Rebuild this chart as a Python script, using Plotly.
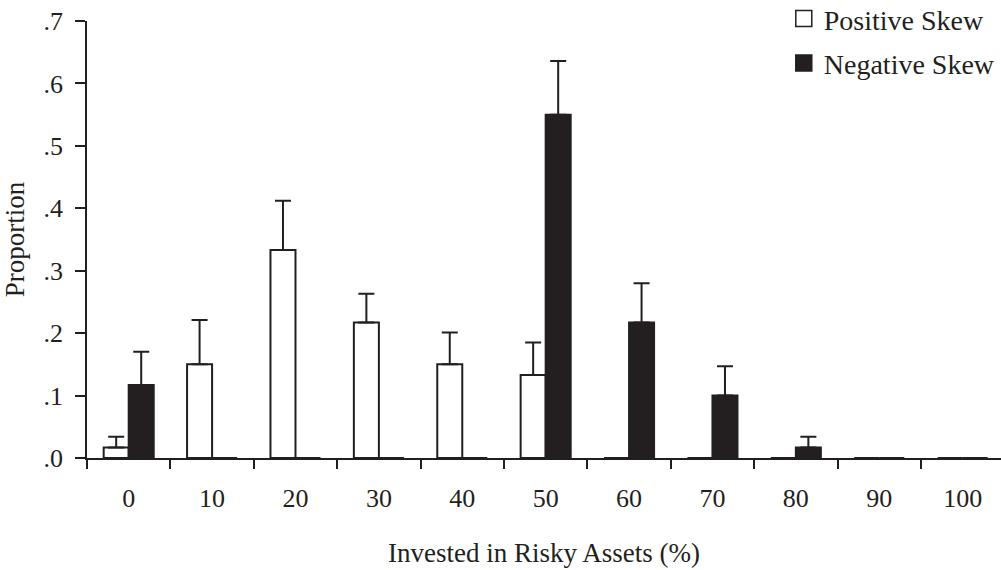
import plotly.graph_objects as go

# Share of participants by percentage invested in the risky asset
categories = ["0", "10", "20", "30", "40", "50", "60", "70", "80", "90", "100"]
positive_skew = [0.017, 0.150, 0.333, 0.217, 0.150, 0.133, 0.0, 0.0, 0.0, 0.0, 0.0]
positive_err = [0.017, 0.071, 0.079, 0.046, 0.051, 0.052, 0.0, 0.0, 0.0, 0.0, 0.0]
negative_skew = [0.117, 0.0, 0.0, 0.0, 0.0, 0.550, 0.217, 0.100, 0.017, 0.0, 0.0]
negative_err = [0.053, 0.0, 0.0, 0.0, 0.0, 0.086, 0.063, 0.047, 0.017, 0.0, 0.0]
y_ticks = [0.0, 0.1, 0.2, 0.3, 0.4, 0.5, 0.6, 0.7]
y_tick_text = [".0", ".1", ".2", ".3", ".4", ".5", ".6", ".7"]

INK = "#231f20"
FONT = "Liberation Serif"
TICK_SIZE = 26
TITLE_SIZE = 27
LEGEND_SIZE = 28
zeros = [0.0] * len(categories)


def err(values):
    return dict(type="data", symmetric=False, array=values, arrayminus=zeros,
                color=INK, thickness=2, width=8)


fig = go.Figure()
fig.add_trace(go.Bar(
    x=categories, y=positive_skew, name="Positive Skew", showlegend=False,
    marker=dict(color="white", line=dict(color=INK, width=2)),
    error_y=err(positive_err),
))
fig.add_trace(go.Bar(
    x=categories, y=negative_skew, name="Negative Skew", showlegend=False,
    marker=dict(color=INK, line=dict(color=INK, width=2)),
    error_y=err(negative_err),
))

# Legend entries with larger square swatches
fig.add_trace(go.Scatter(
    x=[None], y=[None], mode="markers", name="Positive Skew", legendgroup="pos",
    marker=dict(symbol="square", size=16, color="white", line=dict(color=INK, width=1.5)),
))
fig.add_trace(go.Scatter(
    x=[None], y=[None], mode="markers", name="Negative Skew", legendgroup="neg",
    marker=dict(symbol="square", size=16, color=INK, line=dict(color=INK, width=1.5)),
))

fig.update_layout(
    width=1001, height=570,
    margin=dict(l=87, r=0, t=21, b=112, autoexpand=False),
    paper_bgcolor="white", plot_bgcolor="white",
    font=dict(family=FONT, size=TICK_SIZE, color=INK),
    barmode="group", bargap=0.4, bargroupgap=0,
    showlegend=True,
    legend=dict(
        xref="container", yref="paper",
        x=0.783, y=1.062, xanchor="left", yanchor="top",
        bgcolor="rgba(0,0,0,0)", font=dict(family=FONT, size=LEGEND_SIZE, color=INK),
        itemsizing="trace", tracegroupgap=5, itemwidth=30,
    ),
    xaxis=dict(
        type="category", categoryorder="array", categoryarray=categories,
        range=[-0.5, 10.46],
        showline=True, linecolor=INK, linewidth=1.5,
        ticks="outside", tickson="boundaries", ticklen=9, tickwidth=1.5, tickcolor=INK,
        showgrid=False, zeroline=False,
        tickfont=dict(family=FONT, size=TICK_SIZE, color=INK),
        title=dict(text="Invested in Risky Assets (%)", standoff=31,
                   font=dict(family=FONT, size=TITLE_SIZE, color=INK)),
        ticklabelstandoff=16,
    ),
    yaxis=dict(
        range=[0, 0.7], tickvals=y_ticks, ticktext=y_tick_text,
        showline=True, linecolor=INK, linewidth=1.5,
        ticks="outside", ticklen=10, tickwidth=1.5, tickcolor=INK,
        showgrid=False, zeroline=False,
        tickfont=dict(family=FONT, size=TICK_SIZE, color=INK),
        title=dict(text="Proportion", standoff=14,
                   font=dict(family=FONT, size=TITLE_SIZE, color=INK)),
        ticklabelstandoff=7,
    ),
)

fig.write_html("out.html")
